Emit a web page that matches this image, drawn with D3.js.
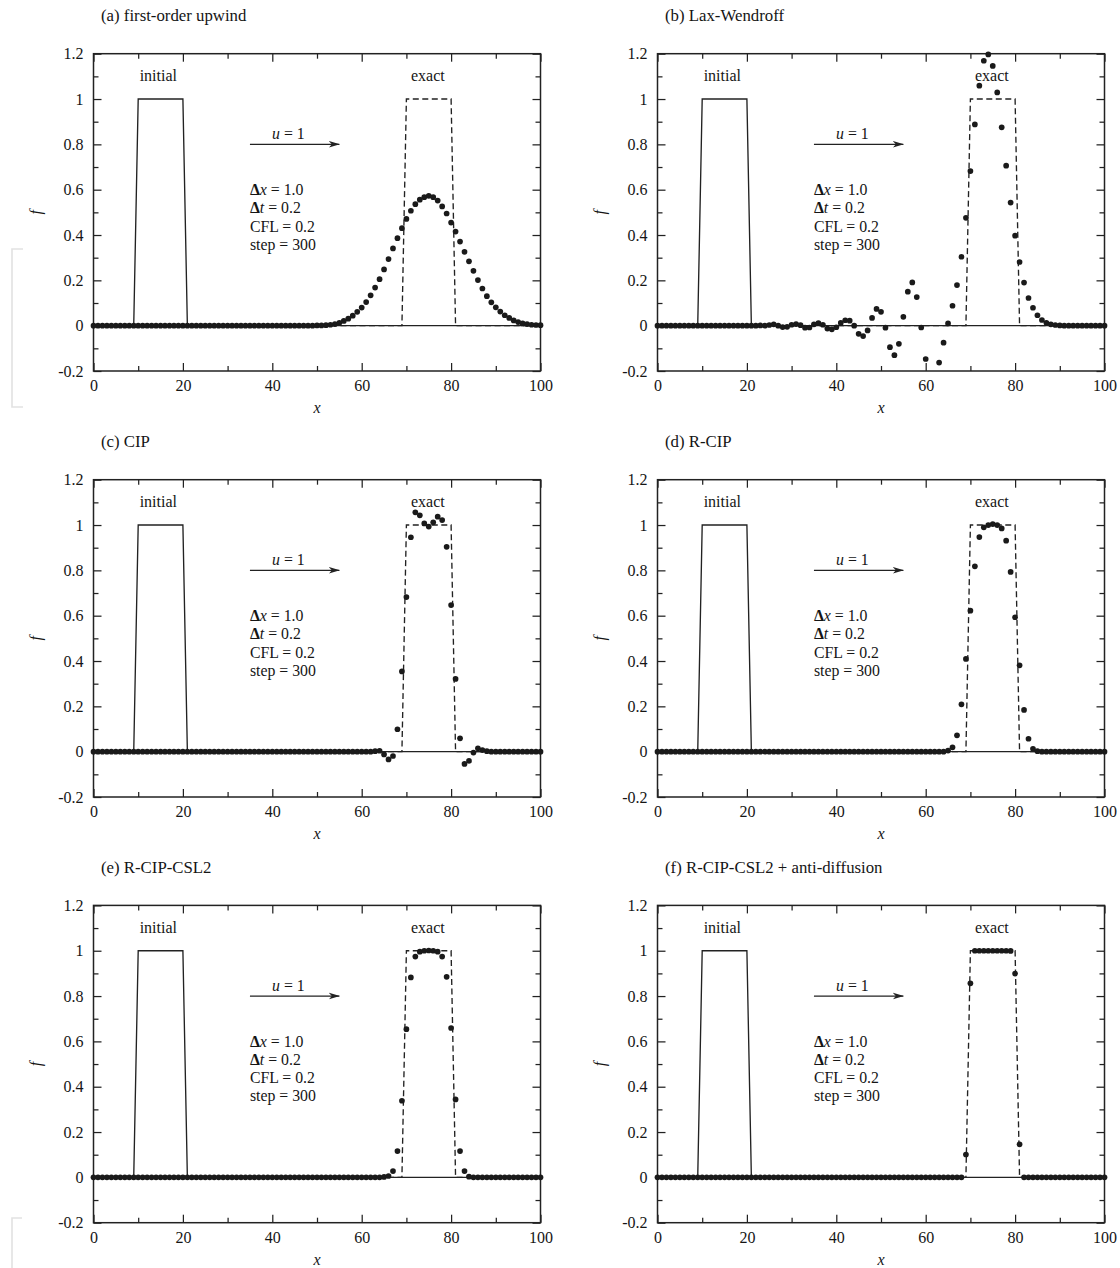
<!DOCTYPE html>
<html>
<head>
<meta charset="utf-8">
<script src="https://cdn.jsdelivr.net/npm/d3@7"></script>
<style>
	body { margin: 0; background: #fff; }
	svg { display: block; font-family: "Liberation Serif", "Times New Roman", serif; }
</style>
</head>
<body>
<script>
// grid spacing: one dot per cell, x = i * dx
const dx = 1.0;

const titles = [
	"(a) first-order upwind",
	"(b) Lax-Wendroff",
	"(c) CIP",
	"(d) R-CIP",
	"(e) R-CIP-CSL2",
	"(f) R-CIP-CSL2 + anti-diffusion"
];

// initial and exact profiles (x, f)
const initialX = [0, 9, 10, 20, 21, 100];
const initialF = [0, 0, 1, 1, 0, 0];
const exactX = [0, 69, 70, 80, 81, 100];
const exactF = [0, 0, 1, 1, 0, 0];

// numerical results at step 300
const upwind = [
	0, 0, 0, 0, 0, 0, 0, 0, 0, 0,
	0, 0, 0, 0, 0, 0, 0, 0, 0, 0,
	0, 0, 0, 0, 0, 0, 0, 0, 0, 0,
	0, 0, 0, 0, 0, 0, 0, 0, 0, 0,
	0, 0, 0, 0, 0, 0, 0, 0, 0, 0,
	0.001, 0.001, 0.002, 0.004, 0.007, 0.013, 0.021, 0.031, 0.044, 0.061,
	0.080, 0.104, 0.134, 0.168, 0.205, 0.248, 0.294, 0.341, 0.386, 0.430,
	0.471, 0.507, 0.536, 0.556, 0.567, 0.573, 0.567, 0.552, 0.526, 0.495,
	0.455, 0.415, 0.371, 0.326, 0.284, 0.242, 0.201, 0.164, 0.130, 0.103,
	0.081, 0.062, 0.046, 0.034, 0.023, 0.016, 0.010, 0.007, 0.004, 0.003,
	0.002
];
const laxWendroff = [
	0, 0, 0, 0, 0, 0, 0, 0, 0, 0,
	0, 0, 0, 0, 0, 0, 0, 0, 0, 0,
	0, 0, 0, 0.001, 0, 0.003, 0.006, 0, -0.006, -0.005,
	0.004, 0.007, 0.002, -0.009, -0.008, 0.006, 0.011, 0.004, -0.013, -0.016,
	-0.007, 0.012, 0.024, 0.022, 0, -0.036, -0.046, -0.021, 0.034, 0.074,
	0.061, -0.009, -0.095, -0.130, -0.080, 0.039, 0.150, 0.191, 0.126, -0.008,
	-0.147, -0.225, -0.232, -0.163, -0.075, 0.010, 0.088, 0.179, 0.304, 0.476,
	0.682, 0.888, 1.059, 1.169, 1.197, 1.146, 1.029, 0.875, 0.706, 0.543,
	0.397, 0.281, 0.190, 0.122, 0.079, 0.046, 0.025, 0.013, 0.006, 0.003,
	0.001, 0, 0, 0, 0, 0, 0, 0, 0, 0,
	0
];
const cip = [
	0, 0, 0, 0, 0, 0, 0, 0, 0, 0,
	0, 0, 0, 0, 0, 0, 0, 0, 0, 0,
	0, 0, 0, 0, 0, 0, 0, 0, 0, 0,
	0, 0, 0, 0, 0, 0, 0, 0, 0, 0,
	0, 0, 0, 0, 0, 0, 0, 0, 0, 0,
	0, 0, 0, 0, 0, 0, 0, 0, 0, 0,
	0, 0, 0, 0.002, 0.004, -0.012, -0.034, -0.019, 0.099, 0.354,
	0.682, 0.946, 1.056, 1.043, 1.007, 0.993, 1.012, 1.037, 1.022, 0.904,
	0.647, 0.321, 0.059, -0.054, -0.041, -0.004, 0.015, 0.007, 0.002, 0,
	0, 0, 0, 0, 0, 0, 0, 0, 0, 0,
	0
];
const rcip = [
	0, 0, 0, 0, 0, 0, 0, 0, 0, 0,
	0, 0, 0, 0, 0, 0, 0, 0, 0, 0,
	0, 0, 0, 0, 0, 0, 0, 0, 0, 0,
	0, 0, 0, 0, 0, 0, 0, 0, 0, 0,
	0, 0, 0, 0, 0, 0, 0, 0, 0, 0,
	0, 0, 0, 0, 0, 0, 0, 0, 0, 0,
	0, 0, 0, 0, 0, 0.005, 0.019, 0.072, 0.209, 0.409,
	0.622, 0.818, 0.947, 0.990, 1.000, 1.004, 1.000, 0.985, 0.931, 0.793,
	0.593, 0.381, 0.184, 0.057, 0.013, 0.002, 0, 0, 0, 0,
	0, 0, 0, 0, 0, 0, 0, 0, 0, 0,
	0
];
const rcipCsl2 = [
	0, 0, 0, 0, 0, 0, 0, 0, 0, 0,
	0, 0, 0, 0, 0, 0, 0, 0, 0, 0,
	0, 0, 0, 0, 0, 0, 0, 0, 0, 0,
	0, 0, 0, 0, 0, 0, 0, 0, 0, 0,
	0, 0, 0, 0, 0, 0, 0, 0, 0, 0,
	0, 0, 0, 0, 0, 0, 0, 0, 0, 0,
	0, 0, 0, 0, 0, 0.002, 0.006, 0.028, 0.116, 0.338,
	0.654, 0.882, 0.974, 0.996, 1.000, 1.001, 1.000, 0.996, 0.974, 0.885,
	0.659, 0.344, 0.116, 0.028, 0.003, 0, 0, 0, 0, 0,
	0, 0, 0, 0, 0, 0, 0, 0, 0, 0,
	0
];
const rcipCsl2Anti = [
	0, 0, 0, 0, 0, 0, 0, 0, 0, 0,
	0, 0, 0, 0, 0, 0, 0, 0, 0, 0,
	0, 0, 0, 0, 0, 0, 0, 0, 0, 0,
	0, 0, 0, 0, 0, 0, 0, 0, 0, 0,
	0, 0, 0, 0, 0, 0, 0, 0, 0, 0,
	0, 0, 0, 0, 0, 0, 0, 0, 0, 0,
	0, 0, 0, 0, 0, 0, 0, 0, 0, 0.101,
	0.856, 1.000, 1.000, 1.000, 1.000, 1.000, 1.000, 1.000, 1.000, 0.999,
	0.899, 0.146, 0, 0, 0, 0, 0, 0, 0, 0,
	0, 0, 0, 0, 0, 0, 0, 0, 0, 0,
	0
];
const results = [upwind, laxWendroff, cip, rcip, rcipCsl2, rcipCsl2Anti];

// ticks
const xMajor = [0, 20, 40, 60, 80, 100];
const xMinor = [10, 30, 50, 70, 90];
const xTickLabels = ["0", "20", "40", "60", "80", "100"];
const yMajor = [-0.2, 0, 0.2, 0.4, 0.6, 0.8, 1, 1.2];
const yMinor = [-0.1, 0.1, 0.3, 0.5, 0.7, 0.9, 1.1];
const yTickLabels = ["-0.2", "0", "0.2", "0.4", "0.6", "0.8", "1", "1.2"];

const params = ["Δx = 1.0", "Δt = 0.2", "CFL = 0.2", "step = 300"];

let app = () => {
	const width = 1120, height = 1268;
	const W = 447, H = 317.3;
	const colX = [93.5, 657.5];
	const rowY = [53.7, 479.7, 905.4];
	const ink = "#222";
	const txt = "#151515";

	const svg = d3.select("body").append("svg")
		.attr("width", width)
		.attr("height", height);

	svg.append("defs").append("marker")
		.attr("id", "arr")
		.attr("viewBox", "0 -4 11 8")
		.attr("refX", 10.5)
		.attr("refY", 0)
		.attr("markerUnits", "userSpaceOnUse")
		.attr("markerWidth", 11)
		.attr("markerHeight", 8)
		.attr("orient", "auto")
		.append("path")
		.attr("d", "M0,-3.3L11,0L0,3.3L3,0Z")
		.attr("fill", ink);

	// faint scan marks on the left margin
	svg.append("path")
		.attr("d", "M23,249H12V407H23 M22,1218H12V1268")
		.attr("fill", "none")
		.attr("stroke", "#e2e2e2")
		.attr("stroke-width", 1.6);

	const x = d3.scaleLinear().domain([0, 100]).range([0, W]);
	const y = d3.scaleLinear().domain([-0.2, 1.2]).range([H, 0]);
	const line = d3.line().x((d) => x(d[0])).y((d) => y(d[1]));

	const cleanAxis = (g) => {
		g.select(".domain").remove();
		g.attr("font-family", null).attr("font-size", null).attr("color", ink);
		g.selectAll("line").attr("stroke-width", 1.25);
		g.selectAll("text").attr("font-size", 16).attr("fill", txt);
	};

	const drawPanel = (k) => {
		const g = svg.append("g")
			.attr("transform", "translate(" + colX[k % 2] + "," + rowY[Math.floor(k / 2)] + ")");

		g.append("text")
			.attr("x", 7.5)
			.attr("y", -32.5)
			.attr("font-size", 16.8)
			.attr("fill", txt)
			.text(titles[k]);

		// ticks point inward on all four sides
		g.append("g").attr("transform", "translate(0," + H + ")")
			.call(d3.axisBottom(x).tickValues(xMajor).tickSize(-8).tickPadding(8.5)
				.tickFormat((d, i) => xTickLabels[i]))
			.call(cleanAxis);
		g.append("g").attr("transform", "translate(0," + H + ")")
			.call(d3.axisBottom(x).tickValues(xMinor).tickSize(-5).tickFormat(""))
			.call(cleanAxis);
		g.append("g")
			.call(d3.axisTop(x).tickValues(xMajor).tickSize(-8).tickFormat(""))
			.call(cleanAxis);
		g.append("g")
			.call(d3.axisTop(x).tickValues(xMinor).tickSize(-5).tickFormat(""))
			.call(cleanAxis);
		g.append("g")
			.call(d3.axisLeft(y).tickValues(yMajor).tickSize(-8).tickPadding(10)
				.tickFormat((d, i) => yTickLabels[i]))
			.call(cleanAxis);
		g.append("g")
			.call(d3.axisLeft(y).tickValues(yMinor).tickSize(-5).tickFormat(""))
			.call(cleanAxis);
		g.append("g").attr("transform", "translate(" + W + ",0)")
			.call(d3.axisRight(y).tickValues(yMajor).tickSize(-8).tickFormat(""))
			.call(cleanAxis);
		g.append("g").attr("transform", "translate(" + W + ",0)")
			.call(d3.axisRight(y).tickValues(yMinor).tickSize(-5).tickFormat(""))
			.call(cleanAxis);

		g.append("rect")
			.attr("width", W)
			.attr("height", H)
			.attr("fill", "none")
			.attr("stroke", ink)
			.attr("stroke-width", 1.5);

		// axis titles
		g.append("text")
			.attr("x", x(50))
			.attr("y", H + 42.5)
			.attr("text-anchor", "middle")
			.attr("font-size", 16)
			.attr("font-style", "italic")
			.attr("fill", txt)
			.text("x");
		g.append("text")
			.attr("transform", "translate(-52.5," + H / 2 + ") rotate(-90)")
			.attr("text-anchor", "middle")
			.attr("font-size", 16)
			.attr("font-style", "italic")
			.attr("fill", txt)
			.text("f");

		// initial (solid) and exact (dashed) profiles
		g.append("path")
			.datum(initialX.map((v, i) => [v, initialF[i]]))
			.attr("d", line)
			.attr("fill", "none")
			.attr("stroke", ink)
			.attr("stroke-width", 1.35);
		g.append("path")
			.datum(exactX.map((v, i) => [v, exactF[i]]))
			.attr("d", line)
			.attr("fill", "none")
			.attr("stroke", ink)
			.attr("stroke-width", 1.35)
			.attr("stroke-dasharray", "6,3.5");

		g.append("text")
			.attr("x", x(14.5))
			.attr("y", y(1.1) + 5)
			.attr("text-anchor", "middle")
			.attr("font-size", 16)
			.attr("fill", txt)
			.text("initial");
		g.append("text")
			.attr("x", x(74.8))
			.attr("y", y(1.1) + 5)
			.attr("text-anchor", "middle")
			.attr("font-size", 16)
			.attr("fill", txt)
			.text("exact");

		// velocity arrow
		g.append("line")
			.attr("x1", x(35))
			.attr("x2", x(55))
			.attr("y1", y(0.8))
			.attr("y2", y(0.8))
			.attr("stroke", ink)
			.attr("stroke-width", 1.35)
			.attr("marker-end", "url(#arr)");
		const ut = g.append("text")
			.attr("x", x(43.6))
			.attr("y", y(0.8) - 5)
			.attr("text-anchor", "middle")
			.attr("font-size", 15.8)
			.attr("fill", txt);
		ut.append("tspan").attr("font-style", "italic").text("u");
		ut.append("tspan").text(" = 1");

		// parameters block
		params.forEach((s, i) => {
			const t = g.append("text")
				.attr("x", x(35))
				.attr("y", y(0.6) + 5.5 + i * 18.2)
				.attr("font-size", 15.8)
				.attr("fill", txt);
			if (s[0] === "Δ") {
				t.append("tspan").attr("font-weight", "bold").text("Δ");
				t.append("tspan").attr("font-style", "italic").text(s[1]);
				t.append("tspan").text(s.slice(2));
			} else {
				t.text(s);
			}
		});

		// dots outside the plotted range are not shown
		const pts = results[k]
			.map((f, i) => [i * dx, f])
			.filter((d) => d[1] >= -0.2 && d[1] <= 1.2);
		g.selectAll("circle.dot")
			.data(pts)
			.enter()
			.append("circle")
			.attr("class", "dot")
			.attr("cx", (d) => x(d[0]))
			.attr("cy", (d) => y(d[1]))
			.attr("r", 2.85)
			.attr("fill", "#1a1a1a");
	};

	titles.forEach((t, k) => drawPanel(k));
};

app();
</script>
</body>
</html>
